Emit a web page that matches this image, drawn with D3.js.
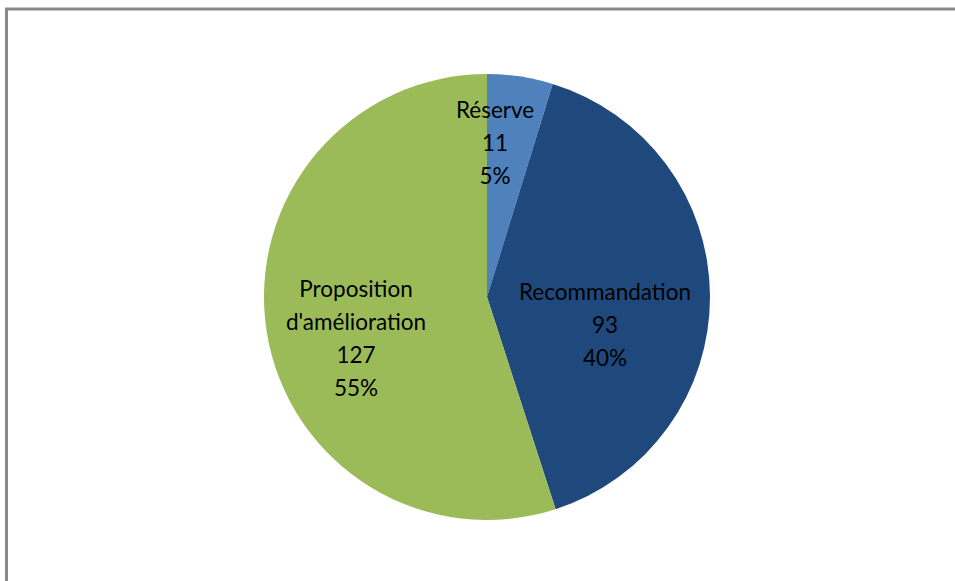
<!DOCTYPE html>
<html><head><meta charset="utf-8">
<script src="https://cdn.jsdelivr.net/npm/d3@7"></script>
<style>body{margin:0;background:#fff}svg{display:block}</style>
</head><body>
<svg id="c" width="955" height="581"></svg>
<script>
const categories = ["Réserve", "Recommandation", "Proposition d'amélioration"];
const labelLines = [["Réserve"], ["Recommandation"], ["Proposition", "d'amélioration"]];
const values = [11, 93, 127];
const percents = ["5%", "40%", "55%"];
const colors = ["#4F81BD", "#1F497D", "#9BBB59"];

const svg = d3.select("#c");
// frame
svg.append("rect").attr("x", 6.5).attr("y", 9).attr("width", 1000).attr("height", 1000)
  .attr("fill", "none").attr("stroke", "#898989").attr("stroke-width", 3);

const cx = 487, cy = 297, R = 223;
const g = svg.append("g").attr("transform", `translate(${cx},${cy})`);
const pie = d3.pie().sort(null).value(d => d)(values);
const arc = d3.arc().innerRadius(0).outerRadius(R);
g.selectAll("path").data(pie).enter().append("path")
  .attr("d", arc).attr("fill", (d, i) => colors[i]);

// label placement within each slice: fraction of the slice angle, and radius
const labelFrac = [0.175, 0.598, 0.455];
const labelR = [153, 121.5, 137.6];
const lh = 33;
pie.forEach((d, i) => {
  const a = d.startAngle + (d.endAngle - d.startAngle) * labelFrac[i];
  const x = labelR[i] * Math.sin(a), y = -labelR[i] * Math.cos(a);
  const lines = labelLines[i].concat([String(values[i]), percents[i]]);
  const t = g.append("text").attr("text-anchor", "middle")
    .attr("font-family", "Lato, 'Open Sans', sans-serif").attr("font-size", 22.5).attr("fill", "#000");
  const n = lines.length;
  lines.forEach((s, k) => {
    t.append("tspan").attr("x", x).attr("y", y + (k - (n - 1) / 2) * lh + 7).text(s);
  });
});
</script>
</body></html>
